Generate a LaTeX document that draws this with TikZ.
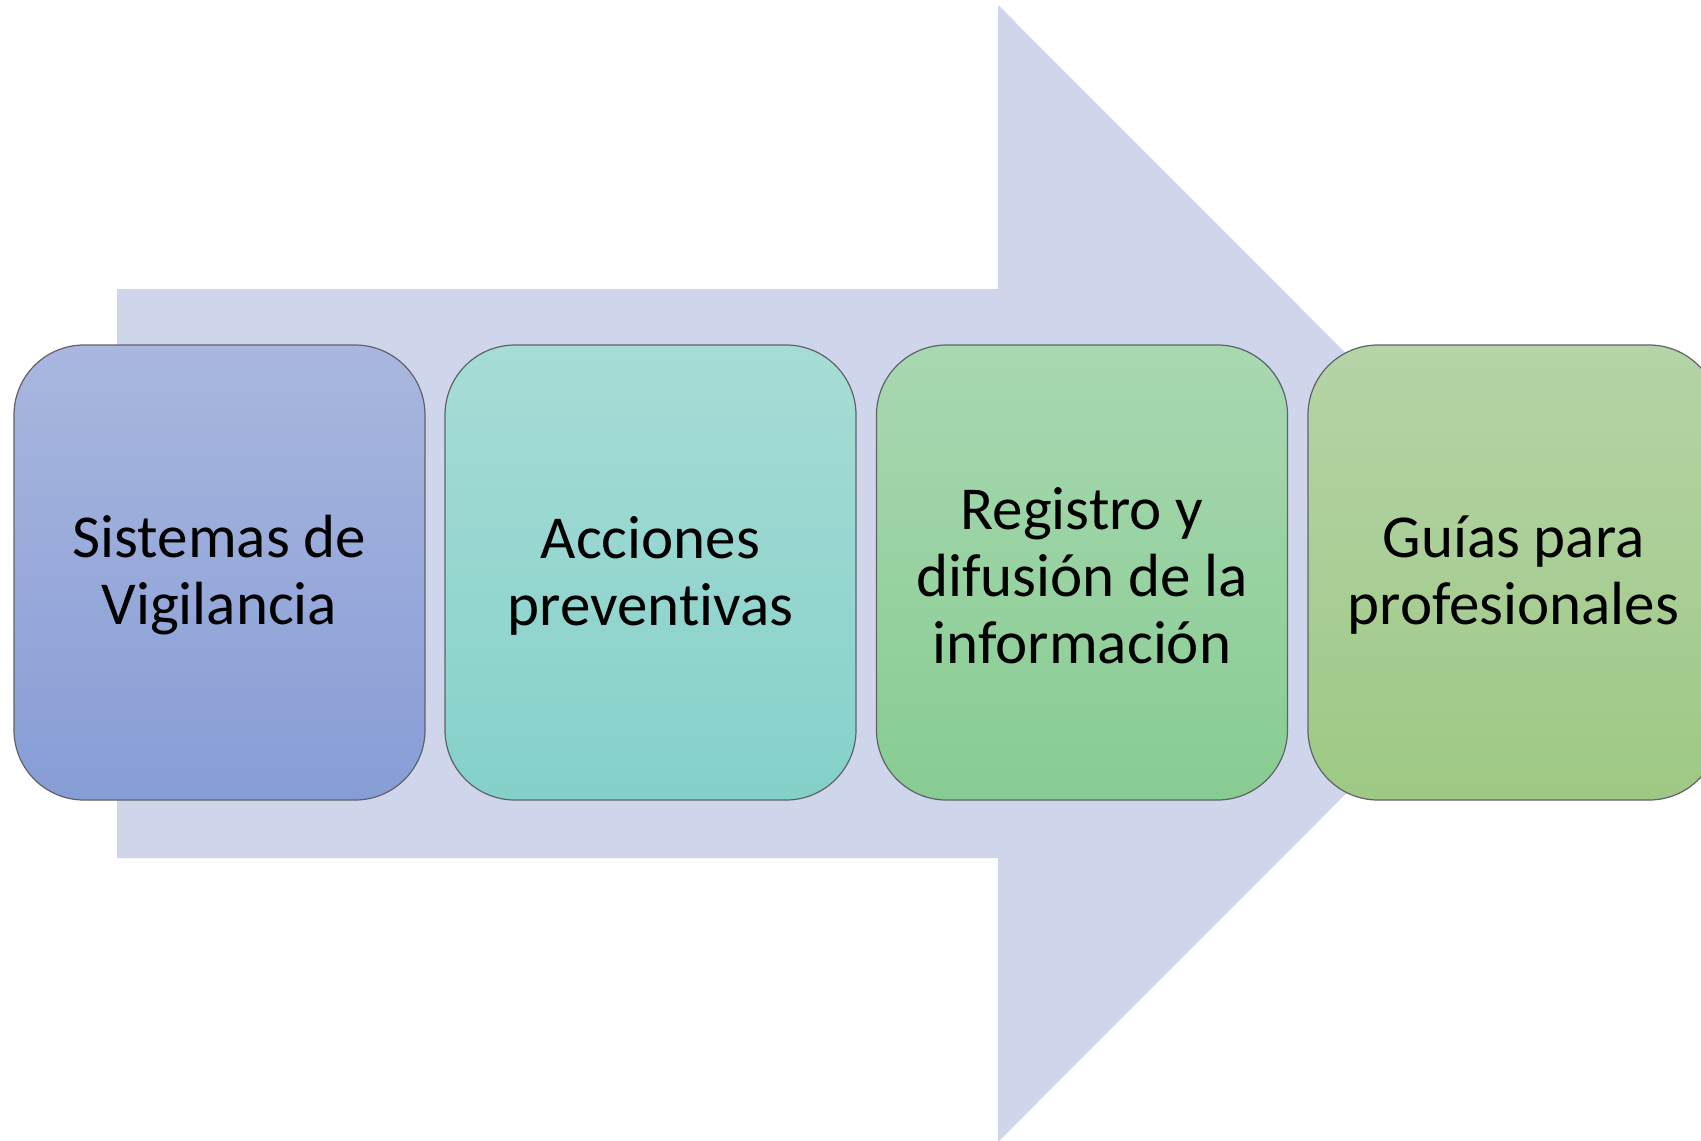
\documentclass[tikz,border=0pt]{standalone}
\usepackage{fontspec}
\setmainfont[Ligatures=NoCommon]{Carlito}
\definecolor{arrowfill}{HTML}{CFD5EA}
\definecolor{boxline}{HTML}{5F6368}
\definecolor{aTop}{HTML}{A9B7DF}
\definecolor{aBot}{HTML}{879DD6}
\definecolor{bTop}{HTML}{A7DCD6}
\definecolor{bBot}{HTML}{84D1CA}
\definecolor{cTop}{HTML}{A8D8B0}
\definecolor{cBot}{HTML}{87CC92}
\definecolor{dTop}{HTML}{B5D4A7}
\definecolor{dBot}{HTML}{9EC984}
\begin{document}
\begin{tikzpicture}[x=0.5pt,y=-0.5pt,
  stepbox/.style={draw=boxline, line width=0.6pt, rounded corners=35pt,
    minimum width=205.5pt, minimum height=227.5pt, inner sep=0pt},
  steptext/.style={align=center, font=\fontsize{30.5}{33.5}\selectfont,
    inner sep=0pt, text=black}]
\useasboundingbox (0,0) rectangle (1701,1140);
\clip (0,0) rectangle (1701,1140);
\fill[white] (0,0) rectangle (1701,1140);
\fill[arrowfill] (117,289) -- (998,289) -- (998,5) -- (1566,573.5)
  -- (998,1142) -- (998,858) -- (117,858) -- cycle;
\node[stepbox, top color=aTop, bottom color=aBot] (s1) at (219.5,572.5) {};
\node[stepbox, top color=bTop, bottom color=bBot] (s2) at (650.5,572.5) {};
\node[stepbox, top color=cTop, bottom color=cBot] (s3) at (1082,572.5) {};
\node[stepbox, top color=dTop, bottom color=dBot] (s4) at (1513.5,572.5) {};
\node[steptext] (t1) at ([yshift=-1.5pt]s1.center) {Sistemas de\\Vigilancia};
\node[steptext] (t2) at ([yshift=-1.5pt]s2.center) {Acciones\\preventivas};
\node[steptext] (t3) at ([yshift=-1.5pt]s3.center) {Registro y\\difusión de la\\información};
\node[steptext] (t4) at ([yshift=-1.5pt]s4.center) {Guías para\\profesionales};
\end{tikzpicture}
\end{document}
